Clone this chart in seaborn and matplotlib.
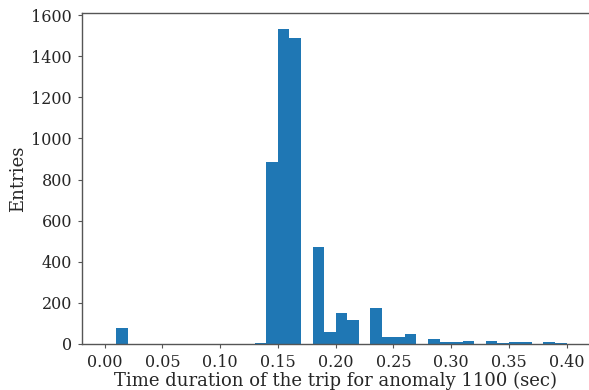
import numpy as np
import pandas as pd
import matplotlib
matplotlib.use("Agg")
import matplotlib.pyplot as plt
import seaborn as sns

# Bin edges of the histogram (0.00 .. 0.40 in steps of 0.01 sec)
bin_edges = [round(0.01 * i, 2) for i in range(41)]

# Entries per bin
counts = [0, 79, 0, 0, 0, 0, 0, 0, 0, 0,
          0, 0, 0, 4, 884, 1535, 1487, 0, 473, 58,
          153, 115, 0, 173, 34, 34, 49, 0, 23, 8,
          8, 13, 0, 13, 6, 8, 8, 0, 10, 4]

x_label = "Time duration of the trip for anomaly 1100 (sec)"
y_label = "Entries"
x_ticks = [0.00, 0.05, 0.10, 0.15, 0.20, 0.25, 0.30, 0.35, 0.40]

edges = np.array(bin_edges)
df = pd.DataFrame({"duration": (edges[:-1] + edges[1:]) / 2,
                   "entries": counts})

sns.set_style("ticks")
plt.rcParams["font.family"] = ["DejaVu Serif"]

fig = plt.figure(figsize=(5.89, 3.90), dpi=100)
ax = fig.add_axes([81.6 / 589, 1 - 344 / 390, 508 / 589, 331.3 / 390])

sns.histplot(data=df, x="duration", weights="entries", bins=bin_edges,
             color="#1f77b4", alpha=1, linewidth=0, ax=ax)

ax.set_xlim(-0.02, 0.42)
ax.set_ylim(0, 1612)
ax.set_xticks(x_ticks)
ax.set_xticklabels([f"{t:.2f}" for t in x_ticks])
ax.set_yticks(range(0, 1601, 200))
ax.tick_params(labelsize=11.5, length=3, width=0.8, pad=4,
               colors="#555555", labelcolor="#262626")
ax.set_xlabel(x_label, fontsize=13, color="#262626", labelpad=1)
ax.set_ylabel(y_label, fontsize=13, color="#262626", labelpad=3)
for s in ax.spines.values():
    s.set_color("#555555")
    s.set_linewidth(1.0)

fig.savefig("out.png", dpi=100)
